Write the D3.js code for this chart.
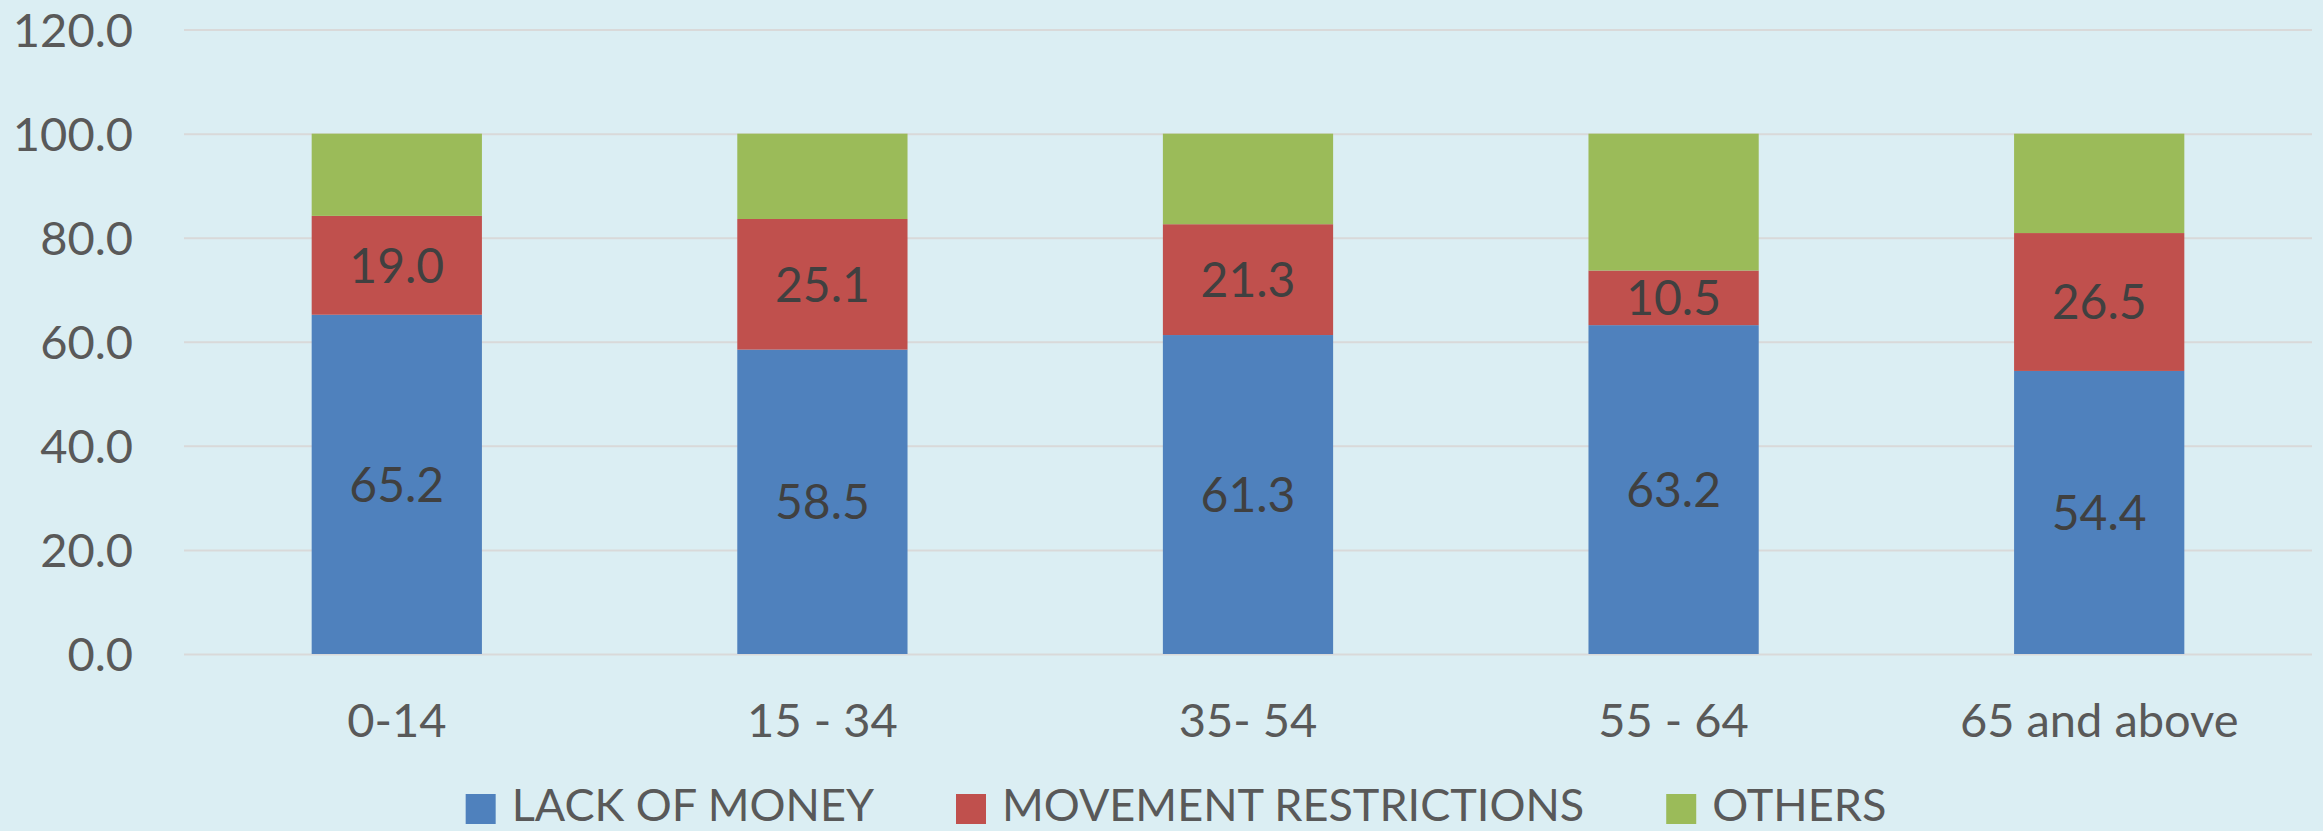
<!DOCTYPE html>
<html>
<head>
  <script src="https://d3js.org/d3.v7.min.js"></script>
  <style>
    body { margin: 0; background: #DBEEF3; }
    text { font-family: Lato, "Open Sans", sans-serif; }
  </style>
</head>
<body>
<div id="vis"></div>
<script>
// age groups and the three reasons (percent of each group)
const groups = ["0-14", "15 - 34", "35- 54", "55 - 64", "65 and above"];
const lackOfMoney = [65.2, 58.5, 61.3, 63.2, 54.4];
const movementRestrictions = [19.0, 25.1, 21.3, 10.5, 26.5];
const others = [15.8, 16.4, 17.4, 26.3, 19.1];
const seriesNames = ["LACK OF MONEY", "MOVEMENT RESTRICTIONS", "OTHERS"];
const yTicks = [0, 20, 40, 60, 80, 100, 120];

const width = 2323;
const height = 831;
const margin = { top: 29.6, right: 11, bottom: 177, left: 184 };
const colors = ["#4F81BD", "#C0504D", "#9BBB59"];
const fontSize = 47;

const svg = d3.select('#vis')
  .append('svg')
  .attr('width', width)
  .attr('height', height)

svg.append('rect')
  .attr('width', width)
  .attr('height', height)
  .attr('fill', '#DBEEF3')

// build rows for d3.stack
const rows = groups.map((g, i) => ({
  group: g,
  [seriesNames[0]]: lackOfMoney[i],
  [seriesNames[1]]: movementRestrictions[i],
  [seriesNames[2]]: others[i]
}));
const stacked = d3.stack().keys(seriesNames)(rows);

const x = d3.scaleBand()
  .domain(groups)
  .range([margin.left, width - margin.right])
  .paddingInner(0.6)
  .paddingOuter(0.3);

const y = d3.scaleLinear()
  .domain([0, 120])
  .range([height - margin.bottom, margin.top]);

// gridlines + y labels
const yAxis = svg.append('g')
  .attr('transform', `translate(${margin.left},0)`)
  .call(d3.axisLeft(y)
    .tickValues(yTicks)
    .tickFormat(d3.format('.1f'))
    .tickSize(-(width - margin.left - margin.right))
    .tickPadding(51));
yAxis.select('.domain').remove();
yAxis.selectAll('.tick line').attr('stroke', '#D9D9D9').attr('stroke-width', 2);
yAxis.selectAll('.tick text')
  .attr('fill', '#595959')
  .attr('font-size', fontSize)
  .attr('dy', '0.36em');

// bars
const layers = svg.selectAll('.layer')
  .data(stacked)
  .enter()
  .append('g')
  .attr('fill', (d, i) => colors[i])

layers.selectAll('rect')
  .data(d => d)
  .enter()
  .append('rect')
  .attr('x', d => x(d.data.group))
  .attr('y', d => y(d[1]))
  .attr('width', x.bandwidth())
  .attr('height', d => y(d[0]) - y(d[1]))

// data labels on first two series only
stacked.slice(0, 2).forEach(layer => {
  svg.selectAll(null)
    .data(layer)
    .enter()
    .append('text')
    .attr('x', d => x(d.data.group) + x.bandwidth() / 2)
    .attr('y', d => (y(d[0]) + y(d[1])) / 2)
    .attr('dy', '0.36em')
    .attr('text-anchor', 'middle')
    .attr('font-size', 48)
    .attr('fill', '#404040')
    .text(d => (d[1] - d[0]).toFixed(1))
});

// category labels
const xAxis = svg.append('g')
  .attr('transform', `translate(0,${height - margin.bottom})`)
  .call(d3.axisBottom(x).tickSize(0).tickPadding(50));
xAxis.select('.domain').remove();
xAxis.selectAll('.tick text')
  .attr('fill', '#595959')
  .attr('font-size', fontSize)
  .attr('dy', '0.71em');

// legend, laid out from measured text widths
const legend = svg.append('g');
let cursor = 0;
seriesNames.forEach((name, i) => {
  const item = legend.append('g').attr('transform', `translate(${cursor},0)`);
  item.append('rect')
    .attr('x', 0)
    .attr('y', -15)
    .attr('width', 30)
    .attr('height', 30)
    .attr('fill', colors[i]);
  const t = item.append('text')
    .attr('x', 46)
    .attr('y', 12)
    .attr('font-size', 45)
    .attr('fill', '#595959')
    .text(name);
  cursor += 46 + t.node().getComputedTextLength() + 82;
});
const legendWidth = cursor - 82;
legend.attr('transform', `translate(${1176 - legendWidth / 2},${809})`);
</script>
</body>
</html>
